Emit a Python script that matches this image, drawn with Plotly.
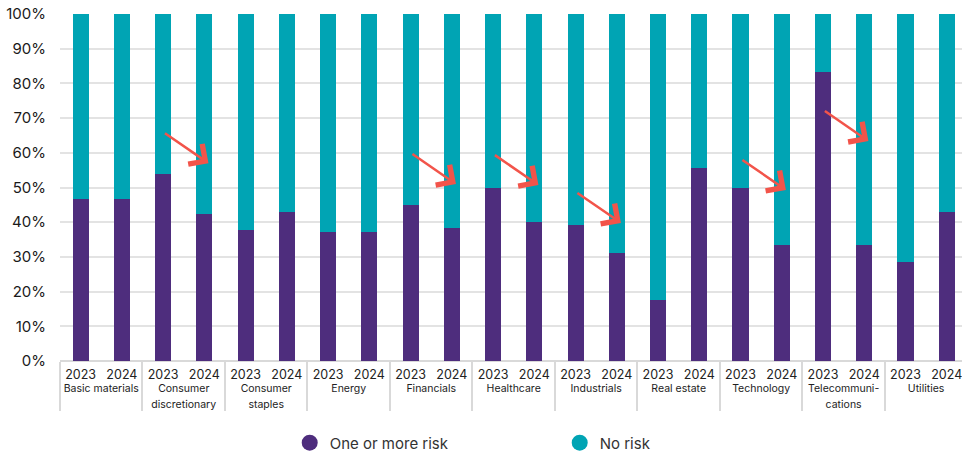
import plotly.graph_objects as go

sectors = ["Basic materials", "Consumer<br>discretionary", "Consumer<br>staples", "Energy",
           "Financials", "Healthcare", "Industrials", "Real estate", "Technology",
           "Telecommuni-<br>cations", "Utilities"]
years = ["2023", "2024"]

risk_2023 = [46.7, 54.0, 37.8, 37.3, 45.0, 50.0, 39.2, 17.6, 50.0, 83.2, 28.5]
risk_2024 = [46.7, 42.5, 42.8, 37.3, 38.4, 40.0, 31.0, 55.5, 33.3, 33.3, 42.8]

# sectors where an arrow marks the drop, with the arrow tip height (%)
arrow_sectors = [1, 4, 5, 6, 8, 9]
arrow_tip = [57.0, 51.0, 50.7, 39.8, 49.3, 63.4]

PURPLE = "#4E2D7D"
TEAL = "#00A4B4"
RED = "#F2544A"

xs_group, xs_year, risk, norisk = [], [], [], []
for i, s in enumerate(sectors):
    label = '<span style="font-size:10.5px">' + s + '</span>'
    for y, v in zip(years, (risk_2023[i], risk_2024[i])):
        xs_group.append(label)
        xs_year.append(y)
        risk.append(v)
        norisk.append(100 - v)

fig = go.Figure()
fig.add_trace(go.Bar(x=[xs_group, xs_year], y=risk, marker=dict(color=PURPLE, line=dict(width=0)),
                     name="One or more risk", showlegend=False))
fig.add_trace(go.Bar(x=[xs_group, xs_year], y=norisk, marker=dict(color=TEAL, line=dict(width=0)),
                     name="No risk", showlegend=False))
# legend entries with circle symbols
fig.add_trace(go.Scatter(x=[None], y=[None], mode="markers", name="One or more risk",
                         marker=dict(symbol="circle", size=16, color=PURPLE)))
fig.add_trace(go.Scatter(x=[None], y=[None], mode="markers", name="No risk",
                         marker=dict(symbol="circle", size=16, color=TEAL)))

for g, tip in zip(arrow_sectors, arrow_tip):
    fig.add_annotation(x=2 * g + 1 + 0.1, y=tip, xref="x", yref="y", text="",
                       showarrow=True, ax=-45, ay=-31, arrowhead=4, arrowsize=1.9,
                       arrowwidth=2.5, arrowcolor=RED, standoff=0)

fig.update_layout(
    width=962, height=455,
    margin=dict(l=60, r=0, t=14, b=94, autoexpand=False),
    barmode="stack", bargap=0.61,
    plot_bgcolor="white", paper_bgcolor="white",
    font=dict(family="Inter, Lato, sans-serif", color="#222222"),
    legend=dict(orientation="h", x=0.554, xanchor="center", y=-0.236, yanchor="middle",
                traceorder="normal",
                font=dict(size=15, color="#333333"), entrywidth=225, entrywidthmode="pixels"),
    xaxis=dict(type="multicategory", range=[-0.5, 21.37], showgrid=False,
               tickfont=dict(size=12.5, color="#222222"), showdividers=True,
               dividercolor="#d9d9d9", dividerwidth=1.5, ticks="",
               ticklabelstandoff=4),
    yaxis=dict(range=[0, 100], dtick=10, ticksuffix="%", showgrid=True,
               gridcolor="#e3e3e3", gridwidth=1.5, zeroline=True, zerolinecolor="#d9d9d9",
               zerolinewidth=1.5, tickfont=dict(size=15, color="#1a1a1a"),
               ticklabelstandoff=13),
)

fig.write_html("out.html")
